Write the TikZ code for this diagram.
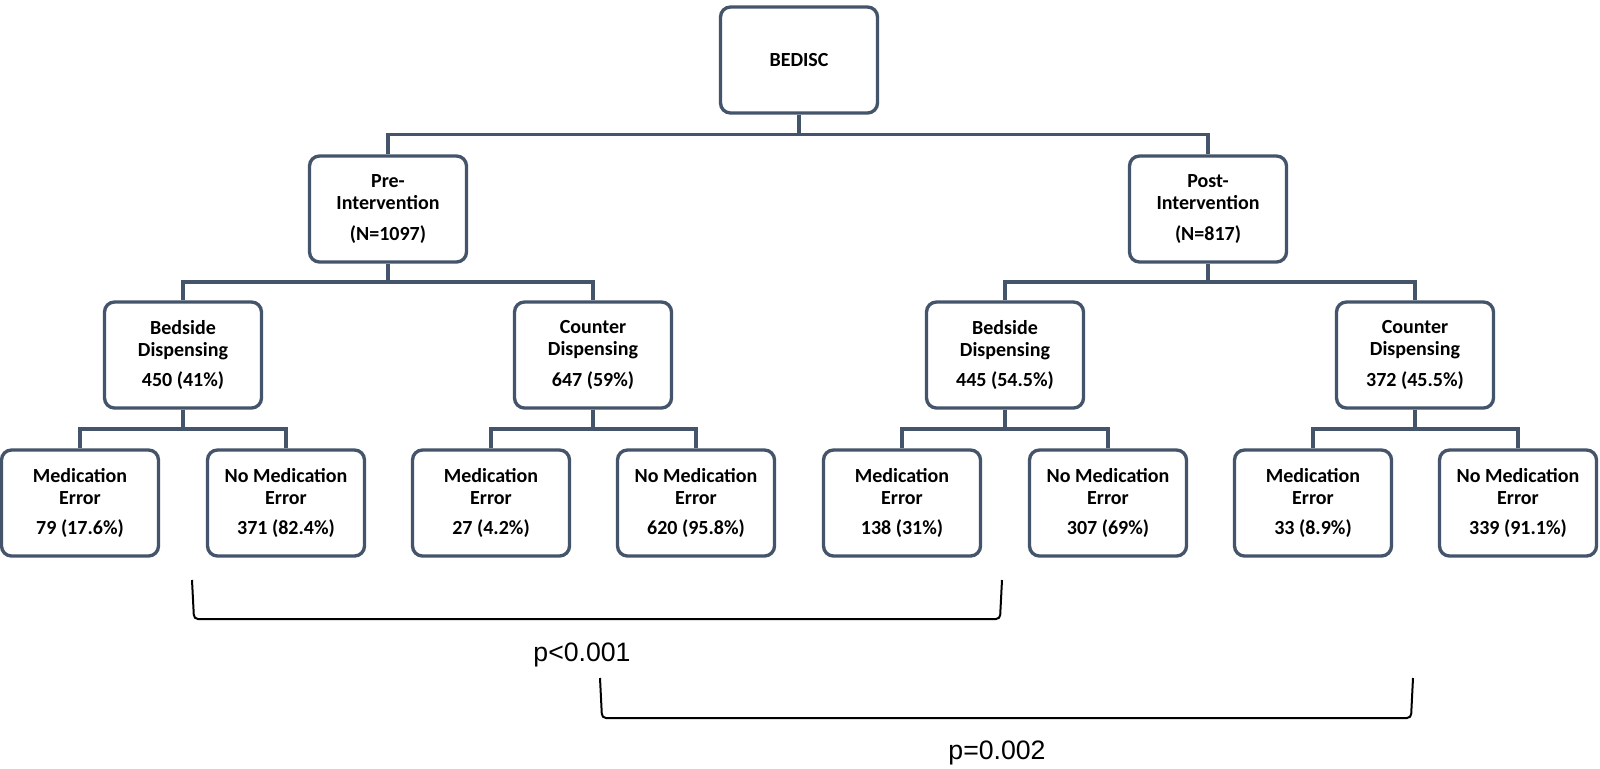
\documentclass[tikz,border=0pt]{standalone}
\usepackage{fontspec}
\setmainfont{Carlito}
\newfontfamily\arialf{Liberation Sans}
\usetikzlibrary{calc}
\definecolor{boxc}{HTML}{44546A}
\newcommand{\treeconn}[2]{\draw[conn] (#1.south) |- ($(#1.south)!.5!(#2.north)$) -| (#2.north);}
\begin{document}
\begin{tikzpicture}[x=0.75pt,y=-0.75pt,
  box/.style={draw=boxc, line width=2.5pt, rounded corners=7.5pt, fill=white,
    minimum width=117.75pt, minimum height=79.5pt, align=center, inner sep=0pt,
    font=\bfseries\fontsize{15}{16.5}\selectfont, text=black},
  conn/.style={draw=boxc, line width=2.5pt},
  brk/.style={draw=black, line width=1.5pt, rounded corners=3pt},
  pv/.style={font=\arialf\fontsize{20}{24}\selectfont, inner sep=0pt}]
\useasboundingbox[fill=white] (0,0) rectangle (1600,768);

\node[box] (root) at (799,60) {BEDISC};
\node[box] (pre) at (388,209) {Pre-\\Intervention\\[6.5pt](N=1097)};
\node[box] (post) at (1208,209) {Post-\\Intervention\\[6.5pt](N=817)};

\node[box] (bedL) at (183,355) {Bedside\\Dispensing\\[6.5pt]450 (41\%)};
\node[box] (cntL) at (593,355) {Counter\\Dispensing\\[6.5pt]647 (59\%)};
\node[box] (bedR) at (1005,355) {Bedside\\Dispensing\\[6.5pt]445 (54.5\%)};
\node[box] (cntR) at (1415,355) {Counter\\Dispensing\\[6.5pt]372 (45.5\%)};

\node[box] (m1) at (80,503) {Medication\\Error\\[6.5pt]79 (17.6\%)};
\node[box] (n1) at (286,503) {No Medication\\Error\\[6.5pt]371 (82.4\%)};
\node[box] (m2) at (491,503) {Medication\\Error\\[6.5pt]27 (4.2\%)};
\node[box] (n2) at (696,503) {No Medication\\Error\\[6.5pt]620 (95.8\%)};
\node[box] (m3) at (902,503) {Medication\\Error\\[6.5pt]138 (31\%)};
\node[box] (n3) at (1108,503) {No Medication\\Error\\[6.5pt]307 (69\%)};
\node[box] (m4) at (1313,503) {Medication\\Error\\[6.5pt]33 (8.9\%)};
\node[box] (n4) at (1518,503) {No Medication\\Error\\[6.5pt]339 (91.1\%)};

\treeconn{root}{pre}
\treeconn{root}{post}
\treeconn{pre}{bedL}
\treeconn{pre}{cntL}
\treeconn{post}{bedR}
\treeconn{post}{cntR}
\treeconn{bedL}{m1}
\treeconn{bedL}{n1}
\treeconn{cntL}{m2}
\treeconn{cntL}{n2}
\treeconn{bedR}{m3}
\treeconn{bedR}{n3}
\treeconn{cntR}{m4}
\treeconn{cntR}{n4}

\coordinate (b1s) at (192,580);
\coordinate (b1e) at (1002,580);
\coordinate (b2s) at (600,678);
\coordinate (b2e) at (1413,678);
\draw[brk] (b1s) -- (194,619) -- (1000,619) -- (b1e);
\draw[brk] (b2s) -- (602,718) -- (1411,718) -- (b2e);

\node[pv] (p1) at (582,655) {p<0.001};
\node[pv] (p2) at (997,753) {p=0.002};
\end{tikzpicture}
\end{document}
